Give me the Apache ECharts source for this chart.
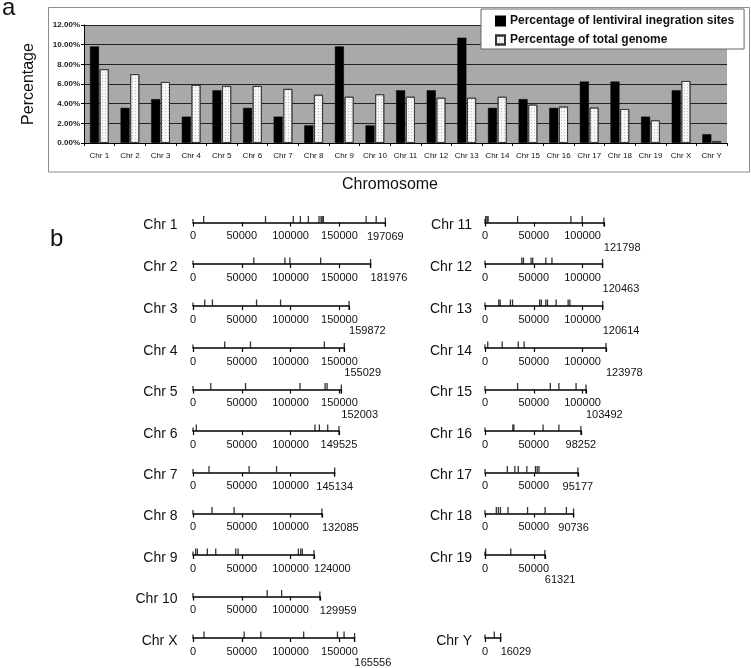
<!DOCTYPE html>
<html><head><meta charset="utf-8">
<script src="https://cdn.jsdelivr.net/npm/echarts@6/dist/echarts.min.js"></script>
<style>html,body{margin:0;padding:0;background:#fff}#c{width:751px;height:668px}</style>
</head><body><div id="c"></div>
<script>
// ---------- Panel a data ----------
const categories = ['Chr 1','Chr 2','Chr 3','Chr 4','Chr 5','Chr 6','Chr 7','Chr 8','Chr 9','Chr 10','Chr 11','Chr 12','Chr 13','Chr 14','Chr 15','Chr 16','Chr 17','Chr 18','Chr 19','Chr X','Chr Y'];
const lentiviralPct = [9.82,3.57,4.46,2.68,5.36,3.57,2.68,1.79,9.82,1.79,5.36,5.36,10.71,3.57,4.46,3.57,6.25,6.25,2.68,5.36,0.89];
const genomePct = [7.5,7.0,6.2,5.9,5.8,5.8,5.5,4.9,4.7,4.95,4.7,4.6,4.6,4.7,3.9,3.7,3.6,3.45,2.3,6.3,0.2];
const seriesNames = ['Percentage of lentiviral inegration sites','Percentage of total genome'];

// ---------- Panel b data ----------
const chromNames = ['Chr 1','Chr 2','Chr 3','Chr 4','Chr 5','Chr 6','Chr 7','Chr 8','Chr 9','Chr 10','Chr X',
                    'Chr 11','Chr 12','Chr 13','Chr 14','Chr 15','Chr 16','Chr 17','Chr 18','Chr 19','Chr Y'];
const chromLengths = [197069,181976,159872,155029,152003,149525,145134,132085,124000,129959,165556,
                      121798,120463,120614,123978,103492,98252,95177,90736,61321,16029];
const sitesChr1 = [10960,74300,102750,110000,118200,129100,131200,132300,133600,177400,187700];
const sitesChr2 = [62300,94200,99300,130800];
const sitesChr3 = [12000,19900,65100,89700];
const sitesChr4 = [32500,58900,134600];
const sitesChr5 = [18200,53800,109600,135300,137400];
const sitesChr6 = [3400,125000,129500,138000];
const sitesChr7 = [16400,57500,85600];
const sitesChr8 = [19500,42100];
const sitesChr9 = [2700,4500,14700,23300,43800,46200,107900,110300,112000];
const sitesChr10 = [76000,90800];
const sitesChrX = [11300,52400,69500,113400,148000,154800];
const sitesChr11 = [700,2100,3200,33400,88000,99600];
const sitesChr12 = [37700,39400,47200,48900,62300,68600];
const sitesChr13 = [14100,15500,26000,28200,56000,57700,62300,64000,72900,85200,87000];
const sitesChr14 = [2800,17600,34100,40100];
const sitesChr15 = [33400,66900,75700,93300];
const sitesChr16 = [28500,29600,59500,75700];
const sitesChr17 = [22900,30600,34100,42900,51700,53500,55300];
const sitesChr18 = [11600,13700,15800,23600,43600,61600,83400];
const sitesChr19 = [700,26400];
const sitesChrY = [9500];
const chromSites = [sitesChr1,sitesChr2,sitesChr3,sitesChr4,sitesChr5,sitesChr6,sitesChr7,sitesChr8,sitesChr9,sitesChr10,sitesChrX,
                    sitesChr11,sitesChr12,sitesChr13,sitesChr14,sitesChr15,sitesChr16,sitesChr17,sitesChr18,sitesChr19,sitesChrY];

// ---------- Layout (not data) ----------
const FONT = '"Liberation Sans", Arial, Helvetica, sans-serif';
const ROW_Y = [222.5, 264, 306, 348, 389.5, 431, 472.5, 513.5, 555, 596.5, 638];
// [column, row] for each chromosome in chromNames order
const PLACE = [[0,0],[0,1],[0,2],[0,3],[0,4],[0,5],[0,6],[0,7],[0,8],[0,9],[0,10],
               [1,0],[1,1],[1,2],[1,3],[1,4],[1,5],[1,6],[1,7],[1,8],[1,10]];
const COL_ORIGIN = [193, 485];
const COL_LABEL_RIGHT = [177.5, 472];
const PX_PER_UNIT = 48.8 / 50000;
// how the length label at the end of each bar is placed: c = centred, l = left-aligned, d = left-aligned one line lower
const END_LABEL_MODE = ['c','l','d','d','d','c','c','l','l','l','d',
                        'd','d','d','d','d','c','c','c','d','l'];
const LABEL_MARGIN = 8;

const grids = [], xAxes = [], yAxes = [], series = [], graphics = [];

// Panel a
grids.push({left:84, top:25, width:643, height:118, show:true, backgroundColor:'#a9a9a9', borderWidth:0});
xAxes.push({type:'category', gridIndex:0, data:categories,
  axisLine:{lineStyle:{color:'#000', width:1}},
  axisTick:{show:true, length:3, lineStyle:{color:'#000'}},
  axisLabel:{fontSize:8, color:'#111', margin:9, interval:0, fontFamily:FONT},
  splitLine:{show:false}});
yAxes.push({type:'value', gridIndex:0, min:0, max:12, interval:2,
  axisLine:{show:true, lineStyle:{color:'#000', width:1}},
  axisTick:{show:true, length:3, lineStyle:{color:'#000'}},
  splitLine:{show:true, lineStyle:{color:'#222', width:1}},
  axisLabel:{fontSize:8, fontWeight:'bold', color:'#222', margin:4, fontFamily:FONT,
    formatter: v => v.toFixed(2) + '%'}});
series.push({name:seriesNames[0], type:'bar', xAxisIndex:0, yAxisIndex:0, data:lentiviralPct,
  barWidth:9, barGap:'8%', itemStyle:{color:'#000', borderColor:'#000', borderWidth:0.5}});
series.push({name:seriesNames[1], type:'bar', xAxisIndex:0, yAxisIndex:0, data:genomePct,
  barWidth:9, barGap:'8%', itemStyle:{color:'#f6f6f6', borderColor:'#333', borderWidth:0.8,
    decal:{symbol:'rect', symbolSize:1, color:'rgba(0,0,0,0.22)', dashArrayX:[1,2], dashArrayY:[1,2], rotation:0}}});

// Panel b
chromNames.forEach((name, i) => {
  const len = chromLengths[i];
  const [col, row] = PLACE[i];
  const lineY = ROW_Y[row];
  const gi = grids.length;
  grids.push({left:COL_ORIGIN[col], top:lineY - 10, width:len * PX_PER_UNIT, height:10});
  xAxes.push({type:'value', gridIndex:gi, min:0, max:len, interval:50000, position:'bottom',
    axisLine:{onZero:false, lineStyle:{color:'#000', width:1.6}},
    axisTick:{show:true, length:4, lineStyle:{color:'#000', width:1.2}},
    axisLabel:{fontSize:11, color:'#111', margin:LABEL_MARGIN, fontFamily:FONT,
      showMinLabel:true, showMaxLabel:true, hideOverlap:false,
      formatter: v => (Math.abs(v - len) < 1e-6 ? '' : String(v))},
    splitLine:{show:false}});
  yAxes.push({type:'value', gridIndex:gi, min:0, max:1, show:false});
  series.push({type:'scatter', xAxisIndex:gi, yAxisIndex:gi, silent:true, clip:false,
    data: chromSites[i].map(v => [v, 0]),
    symbol:'rect', symbolSize:[1.3, 6.5], symbolOffset:[0, -3.25], itemStyle:{color:'#000'}});
  const mode = END_LABEL_MODE[i];
  series.push({type:'scatter', xAxisIndex:gi, yAxisIndex:gi, silent:true, clip:false,
    symbol:'rect', itemStyle:{color:'#000'},
    data:[{value:[0,0], symbolSize:[1.3,3.5], symbolOffset:[0,-1.75]},
          {value:[len,0], symbolSize:[1.3,9], symbolOffset:[0,-0.5]}]});
  series.push({type:'scatter', xAxisIndex:gi, yAxisIndex:gi, silent:true, clip:false,
    data:[[len,0]], symbol:'rect', symbolSize:0.01, itemStyle:{color:'#111', opacity:1},
    label:{show:true, formatter:String(len), fontSize:11, color:'#111', fontFamily:FONT,
      textBorderWidth:0, textShadowBlur:0, opacity:1,
      position: mode === 'd' ? [0, LABEL_MARGIN + 11.5] : [0, LABEL_MARGIN + 0.5],
      align: mode === 'c' ? 'center' : 'left', verticalAlign:'top'}});
  graphics.push({type:'text', x:COL_LABEL_RIGHT[col], y:lineY + 3,
    style:{text:name, font:'14px ' + FONT, fill:'#111', align:'right', verticalAlign:'middle'}});
});

// Frame and titles
graphics.push({type:'rect', z:-1, shape:{x:48.5, y:7.5, width:701, height:164.5},
  style:{fill:'none', stroke:'#8c8c8c', lineWidth:1}});
graphics.push({type:'text', x:2, y:8, style:{text:'a', font:'24px ' + FONT, fill:'#111', align:'left', verticalAlign:'middle'}});
graphics.push({type:'text', x:50, y:239, style:{text:'b', font:'24px ' + FONT, fill:'#111', align:'left', verticalAlign:'middle'}});
graphics.push({type:'text', x:29, y:84, rotation:Math.PI/2,
  style:{text:'Percentage', font:'16px ' + FONT, fill:'#111', align:'center', verticalAlign:'middle'}});
graphics.push({type:'text', x:390, y:185,
  style:{text:'Chromosome', font:'16px ' + FONT, fill:'#111', align:'center', verticalAlign:'middle'}});

const chart = echarts.init(document.getElementById('c'), null, {renderer:'canvas'});
chart.setOption({
  animation:false,
  backgroundColor:'#fff',
  textStyle:{fontFamily:FONT},
  legend:{left:481, top:9, orient:'vertical', selectedMode:false, icon:'rect',
    itemWidth:9, itemHeight:9, itemGap:5, padding:[5,10,2,14],
    backgroundColor:'#fff', borderColor:'#666', borderWidth:1,
    textStyle:{fontSize:12, fontWeight:'bold', color:'#111', fontFamily:FONT, lineHeight:14},
    data:seriesNames},
  grid:grids, xAxis:xAxes, yAxis:yAxes, series:series, graphic:graphics
});
</script></body></html>
